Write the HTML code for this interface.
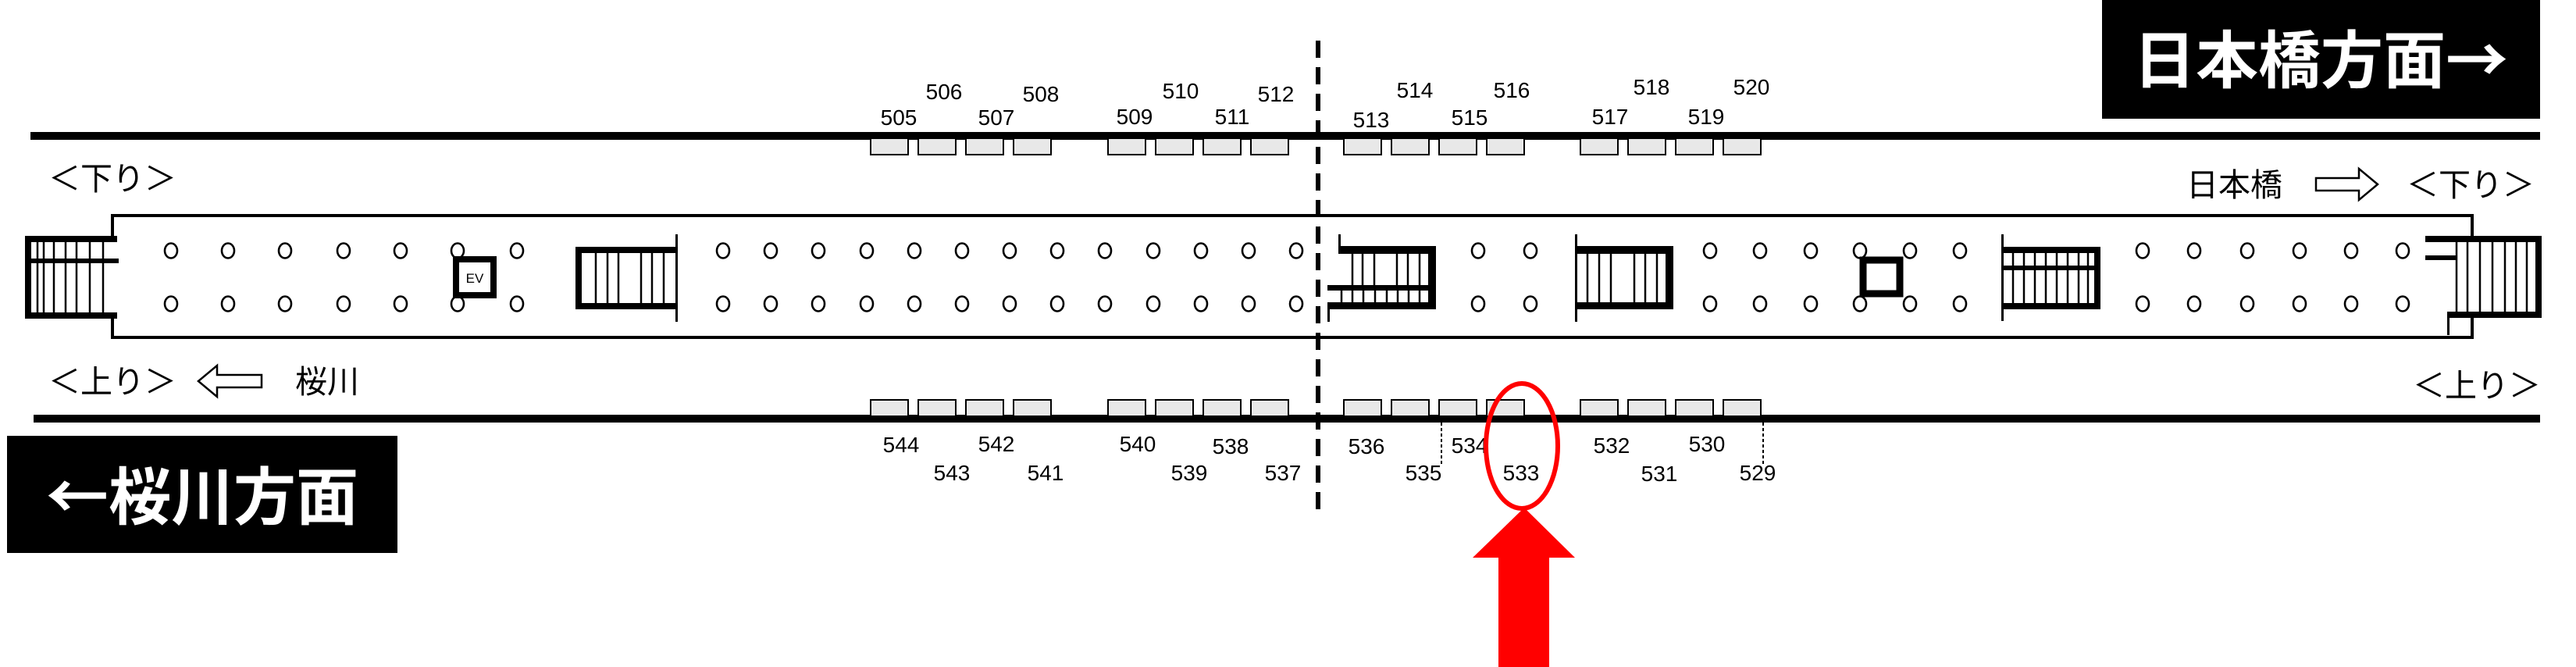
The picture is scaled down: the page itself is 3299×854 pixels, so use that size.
<!DOCTYPE html>
<html><head><meta charset="utf-8"><style>
html,body{margin:0;padding:0;background:#fff;}
svg{display:block;}
text{font-family:"Liberation Sans","Noto Sans CJK JP",sans-serif;}
.jp{font-family:"Noto Sans CJK JP",sans-serif;}
</style></head><body>
<svg width="3299" height="854" viewBox="0 0 3299 854" xmlns="http://www.w3.org/2000/svg">
<rect width="3299" height="854" fill="#fff"/>
<!-- direction boxes -->
<rect x="2692" y="0" width="561" height="152" fill="#000"/>
<text class="jp" x="2972" y="106" font-size="80" font-weight="bold" fill="#fff" text-anchor="middle">日本橋方面→</text>
<rect x="9" y="558" width="500" height="150" fill="#000"/>
<text class="jp" x="259" y="665" font-size="80" font-weight="bold" fill="#fff" text-anchor="middle">←桜川方面</text>

<!-- rails -->
<rect x="39" y="169" width="3214" height="10" fill="#000"/>
<rect x="43" y="531" width="3210" height="10" fill="#000"/>

<!-- doors -->
<g fill="#e8e8e8" stroke="#000" stroke-width="2">
<rect x="1115" y="177" width="48" height="21"/><rect x="1176" y="177" width="48" height="21"/><rect x="1237" y="177" width="48" height="21"/><rect x="1298" y="177" width="48" height="21"/>
<rect x="1419" y="177" width="48" height="21"/><rect x="1480" y="177" width="48" height="21"/><rect x="1541" y="177" width="48" height="21"/><rect x="1602" y="177" width="48" height="21"/>
<rect x="1721" y="177" width="48" height="21"/><rect x="1782" y="177" width="48" height="21"/><rect x="1843" y="177" width="48" height="21"/><rect x="1904" y="177" width="48" height="21"/>
<rect x="2024" y="177" width="48" height="21"/><rect x="2085" y="177" width="48" height="21"/><rect x="2146" y="177" width="48" height="21"/><rect x="2207" y="177" width="48" height="21"/>
<rect x="1115" y="512" width="48" height="21"/><rect x="1176" y="512" width="48" height="21"/><rect x="1237" y="512" width="48" height="21"/><rect x="1298" y="512" width="48" height="21"/>
<rect x="1419" y="512" width="48" height="21"/><rect x="1480" y="512" width="48" height="21"/><rect x="1541" y="512" width="48" height="21"/><rect x="1602" y="512" width="48" height="21"/>
<rect x="1721" y="512" width="48" height="21"/><rect x="1782" y="512" width="48" height="21"/><rect x="1843" y="512" width="48" height="21"/><rect x="1904" y="512" width="48" height="21"/>
<rect x="2024" y="512" width="48" height="21"/><rect x="2085" y="512" width="48" height="21"/><rect x="2146" y="512" width="48" height="21"/><rect x="2207" y="512" width="48" height="21"/>
</g>

<!-- door numbers -->
<g font-size="28" text-anchor="middle" fill="#000">
<text x="1209" y="127">506</text><text x="1333" y="130">508</text><text x="1512" y="126">510</text><text x="1634" y="130">512</text>
<text x="1812" y="125">514</text><text x="1936" y="125">516</text><text x="2115" y="121">518</text><text x="2243" y="121">520</text>
<text x="1151" y="160">505</text><text x="1276" y="160">507</text><text x="1453" y="159">509</text><text x="1578" y="159">511</text>
<text x="1756" y="163">513</text><text x="1882" y="160">515</text><text x="2062" y="159">517</text><text x="2185" y="159">519</text>
<text x="1154" y="579">544</text><text x="1276" y="578">542</text><text x="1457" y="578">540</text><text x="1576" y="581">538</text>
<text x="1750" y="581">536</text><text x="1882" y="580">534</text><text x="2064" y="580">532</text><text x="2186" y="578">530</text>
<text x="1219" y="615">543</text><text x="1339" y="615">541</text><text x="1523" y="615">539</text><text x="1643" y="615">537</text>
<text x="1823" y="615">535</text><text x="1948" y="615">533</text><text x="2125" y="616">531</text><text x="2251" y="615">529</text>
</g>
<g stroke="#000" stroke-width="2" stroke-dasharray="4,3">
<line x1="1846" y1="541" x2="1846" y2="594"/><line x1="2258" y1="541" x2="2258" y2="594"/>
</g>

<!-- concourse outline -->
<g stroke="#000" stroke-width="4" fill="none">
<line x1="142" y1="276" x2="3168" y2="276"/>
<line x1="142" y1="432" x2="3168" y2="432"/>
<line x1="144" y1="276" x2="144" y2="304"/><line x1="144" y1="406" x2="144" y2="432"/>
<line x1="3166" y1="276" x2="3166" y2="304"/><line x1="3166" y1="406" x2="3166" y2="432"/>
</g>

<!-- left end stair -->
<g fill="#000">
<rect x="32" y="302" width="118" height="8"/><rect x="32" y="400" width="118" height="8"/><rect x="32" y="302" width="8" height="106"/>
<rect x="40" y="331" width="112" height="6"/>
</g>
<g stroke="#000" stroke-width="2.5">
<line x1="48" y1="310" x2="48" y2="400"/><line x1="56" y1="310" x2="56" y2="400"/><line x1="69" y1="310" x2="69" y2="400"/><line x1="84" y1="310" x2="84" y2="400"/><line x1="98" y1="310" x2="98" y2="400"/><line x1="115" y1="310" x2="115" y2="400"/><line x1="132" y1="310" x2="132" y2="400"/>
</g>

<!-- stair 2 -->
<g fill="#000">
<rect x="737" y="316" width="129" height="8"/><rect x="737" y="388" width="129" height="8"/><rect x="737" y="316" width="8" height="80"/>
<rect x="865" y="300" width="3" height="112"/>
</g>
<g stroke="#000" stroke-width="2.5">
<line x1="763" y1="324" x2="763" y2="388"/><line x1="778" y1="324" x2="778" y2="388"/><line x1="792" y1="324" x2="792" y2="388"/><line x1="821" y1="324" x2="821" y2="388"/><line x1="835" y1="324" x2="835" y2="388"/><line x1="850" y1="324" x2="850" y2="388"/>
</g>

<!-- stair 3 -->
<g fill="#000">
<rect x="1714" y="300" width="3" height="24"/>
<rect x="1714" y="315" width="125" height="10"/>
<rect x="1829" y="315" width="10" height="81"/>
<rect x="1700" y="365" width="139" height="7"/>
<rect x="1700" y="387" width="139" height="9"/>
<rect x="1700" y="387" width="3" height="25"/>
</g>
<g stroke="#000" stroke-width="2.5">
<line x1="1732" y1="325" x2="1732" y2="365"/><line x1="1745" y1="325" x2="1745" y2="365"/><line x1="1760" y1="325" x2="1760" y2="365"/><line x1="1789" y1="325" x2="1789" y2="365"/><line x1="1803" y1="325" x2="1803" y2="365"/><line x1="1818" y1="325" x2="1818" y2="365"/>
<line x1="1718" y1="372" x2="1718" y2="387"/><line x1="1732" y1="372" x2="1732" y2="387"/><line x1="1746" y1="372" x2="1746" y2="387"/><line x1="1761" y1="372" x2="1761" y2="387"/><line x1="1776" y1="372" x2="1776" y2="387"/><line x1="1790" y1="372" x2="1790" y2="387"/><line x1="1804" y1="372" x2="1804" y2="387"/><line x1="1818" y1="372" x2="1818" y2="387"/>
</g>

<!-- stair 4 -->
<g fill="#000">
<rect x="2017" y="300" width="3" height="112"/>
<rect x="2017" y="315" width="126" height="10"/>
<rect x="2017" y="387" width="126" height="9"/>
<rect x="2133" y="315" width="10" height="81"/>
</g>
<g stroke="#000" stroke-width="2.5">
<line x1="2033" y1="325" x2="2033" y2="387"/><line x1="2048" y1="325" x2="2048" y2="387"/><line x1="2063" y1="325" x2="2063" y2="387"/><line x1="2093" y1="325" x2="2093" y2="387"/><line x1="2107" y1="325" x2="2107" y2="387"/><line x1="2122" y1="325" x2="2122" y2="387"/>
</g>

<!-- stair 5 -->
<g fill="#000">
<rect x="2563" y="300" width="3" height="111"/>
<rect x="2563" y="316" width="127" height="8"/>
<rect x="2563" y="388" width="127" height="8"/>
<rect x="2682" y="316" width="8" height="80"/>
<rect x="2563" y="340" width="120" height="6"/>
</g>
<g stroke="#000" stroke-width="2.5">
<line x1="2578" y1="324" x2="2578" y2="388"/><line x1="2592" y1="324" x2="2592" y2="388"/><line x1="2606" y1="324" x2="2606" y2="388"/><line x1="2620" y1="324" x2="2620" y2="388"/><line x1="2634" y1="324" x2="2634" y2="388"/><line x1="2648" y1="324" x2="2648" y2="388"/><line x1="2662" y1="324" x2="2662" y2="388"/><line x1="2674" y1="324" x2="2674" y2="388"/>
</g>

<!-- right end stair -->
<g fill="#000">
<rect x="3106" y="302" width="149" height="8"/>
<rect x="3247" y="302" width="8" height="105"/>
<rect x="3134" y="399" width="121" height="8"/>
<rect x="3106" y="327" width="40" height="6"/>
<rect x="3134" y="399" width="3" height="30"/>
</g>
<g stroke="#000" stroke-width="2.5">
<line x1="3146" y1="310" x2="3146" y2="399"/><line x1="3160" y1="310" x2="3160" y2="399"/><line x1="3176" y1="310" x2="3176" y2="399"/><line x1="3192" y1="310" x2="3192" y2="399"/><line x1="3208" y1="310" x2="3208" y2="399"/><line x1="3222" y1="310" x2="3222" y2="399"/><line x1="3236" y1="310" x2="3236" y2="399"/>
</g>

<!-- EV & box -->
<rect x="584" y="332" width="48" height="46" fill="#fff" stroke="#000" stroke-width="8"/>
<text x="608" y="362" font-size="17" text-anchor="middle">EV</text>
<rect x="2386" y="333" width="47" height="43" fill="#fff" stroke="#000" stroke-width="9"/>

<!-- pillars -->
<g fill="none" stroke="#000" stroke-width="2.6">
<g id="pr">
<ellipse cx="219" cy="321" rx="8" ry="9.5"/><ellipse cx="292" cy="321" rx="8" ry="9.5"/><ellipse cx="365" cy="321" rx="8" ry="9.5"/><ellipse cx="440" cy="321" rx="8" ry="9.5"/><ellipse cx="513" cy="321" rx="8" ry="9.5"/><ellipse cx="586" cy="321" rx="8" ry="9.5"/><ellipse cx="662" cy="321" rx="8" ry="9.5"/>
<ellipse cx="926" cy="321" rx="8" ry="9.5"/><ellipse cx="987" cy="321" rx="8" ry="9.5"/><ellipse cx="1048" cy="321" rx="8" ry="9.5"/><ellipse cx="1110" cy="321" rx="8" ry="9.5"/><ellipse cx="1171" cy="321" rx="8" ry="9.5"/><ellipse cx="1232" cy="321" rx="8" ry="9.5"/><ellipse cx="1293" cy="321" rx="8" ry="9.5"/><ellipse cx="1354" cy="321" rx="8" ry="9.5"/><ellipse cx="1415" cy="321" rx="8" ry="9.5"/><ellipse cx="1477" cy="321" rx="8" ry="9.5"/><ellipse cx="1538" cy="321" rx="8" ry="9.5"/><ellipse cx="1599" cy="321" rx="8" ry="9.5"/><ellipse cx="1660" cy="321" rx="8" ry="9.5"/>
<ellipse cx="1893" cy="321" rx="8" ry="9.5"/><ellipse cx="1960" cy="321" rx="8" ry="9.5"/><ellipse cx="2190" cy="321" rx="8" ry="9.5"/><ellipse cx="2254" cy="321" rx="8" ry="9.5"/><ellipse cx="2319" cy="321" rx="8" ry="9.5"/><ellipse cx="2382" cy="321" rx="8" ry="9.5"/><ellipse cx="2446" cy="321" rx="8" ry="9.5"/><ellipse cx="2510" cy="321" rx="8" ry="9.5"/>
<ellipse cx="2744" cy="321" rx="8" ry="9.5"/><ellipse cx="2810" cy="321" rx="8" ry="9.5"/><ellipse cx="2878" cy="321" rx="8" ry="9.5"/><ellipse cx="2945" cy="321" rx="8" ry="9.5"/><ellipse cx="3011" cy="321" rx="8" ry="9.5"/><ellipse cx="3077" cy="321" rx="8" ry="9.5"/>
</g>
<use href="#pr" y="68"/>
</g>

<!-- labels -->
<g class="jp" font-size="41" fill="#000">
<text class="jp" x="62" y="243">＜下り＞</text>
<text class="jp" x="62" y="503">＜上り＞</text>
<text class="jp" x="378" y="503">桜川</text>
<text class="jp" x="2800" y="251">日本橋</text>
<text class="jp" x="3082" y="251">＜下り＞</text>
<text class="jp" x="3090" y="508">＜上り＞</text>
</g>
<polygon points="254,488 278,468 278,480 335,480 335,496 278,496 278,508" fill="#fff" stroke="#000" stroke-width="2.5"/>
<polygon points="3045,236 3021,216 3021,228 2966,228 2966,244 3021,244 3021,256" fill="#fff" stroke="#000" stroke-width="2.5"/>

<!-- dashed divider -->
<line x1="1688" y1="52" x2="1688" y2="655" stroke="#000" stroke-width="6" stroke-dasharray="22,12"/>

<!-- red highlight -->
<ellipse cx="1949" cy="571" rx="46" ry="80" fill="none" stroke="#f00" stroke-width="6"/>
<polygon points="1952,650 2017,714 1984,714 1984,854 1919,854 1919,714 1886,714" fill="#f00"/>
</svg>
</body></html>
